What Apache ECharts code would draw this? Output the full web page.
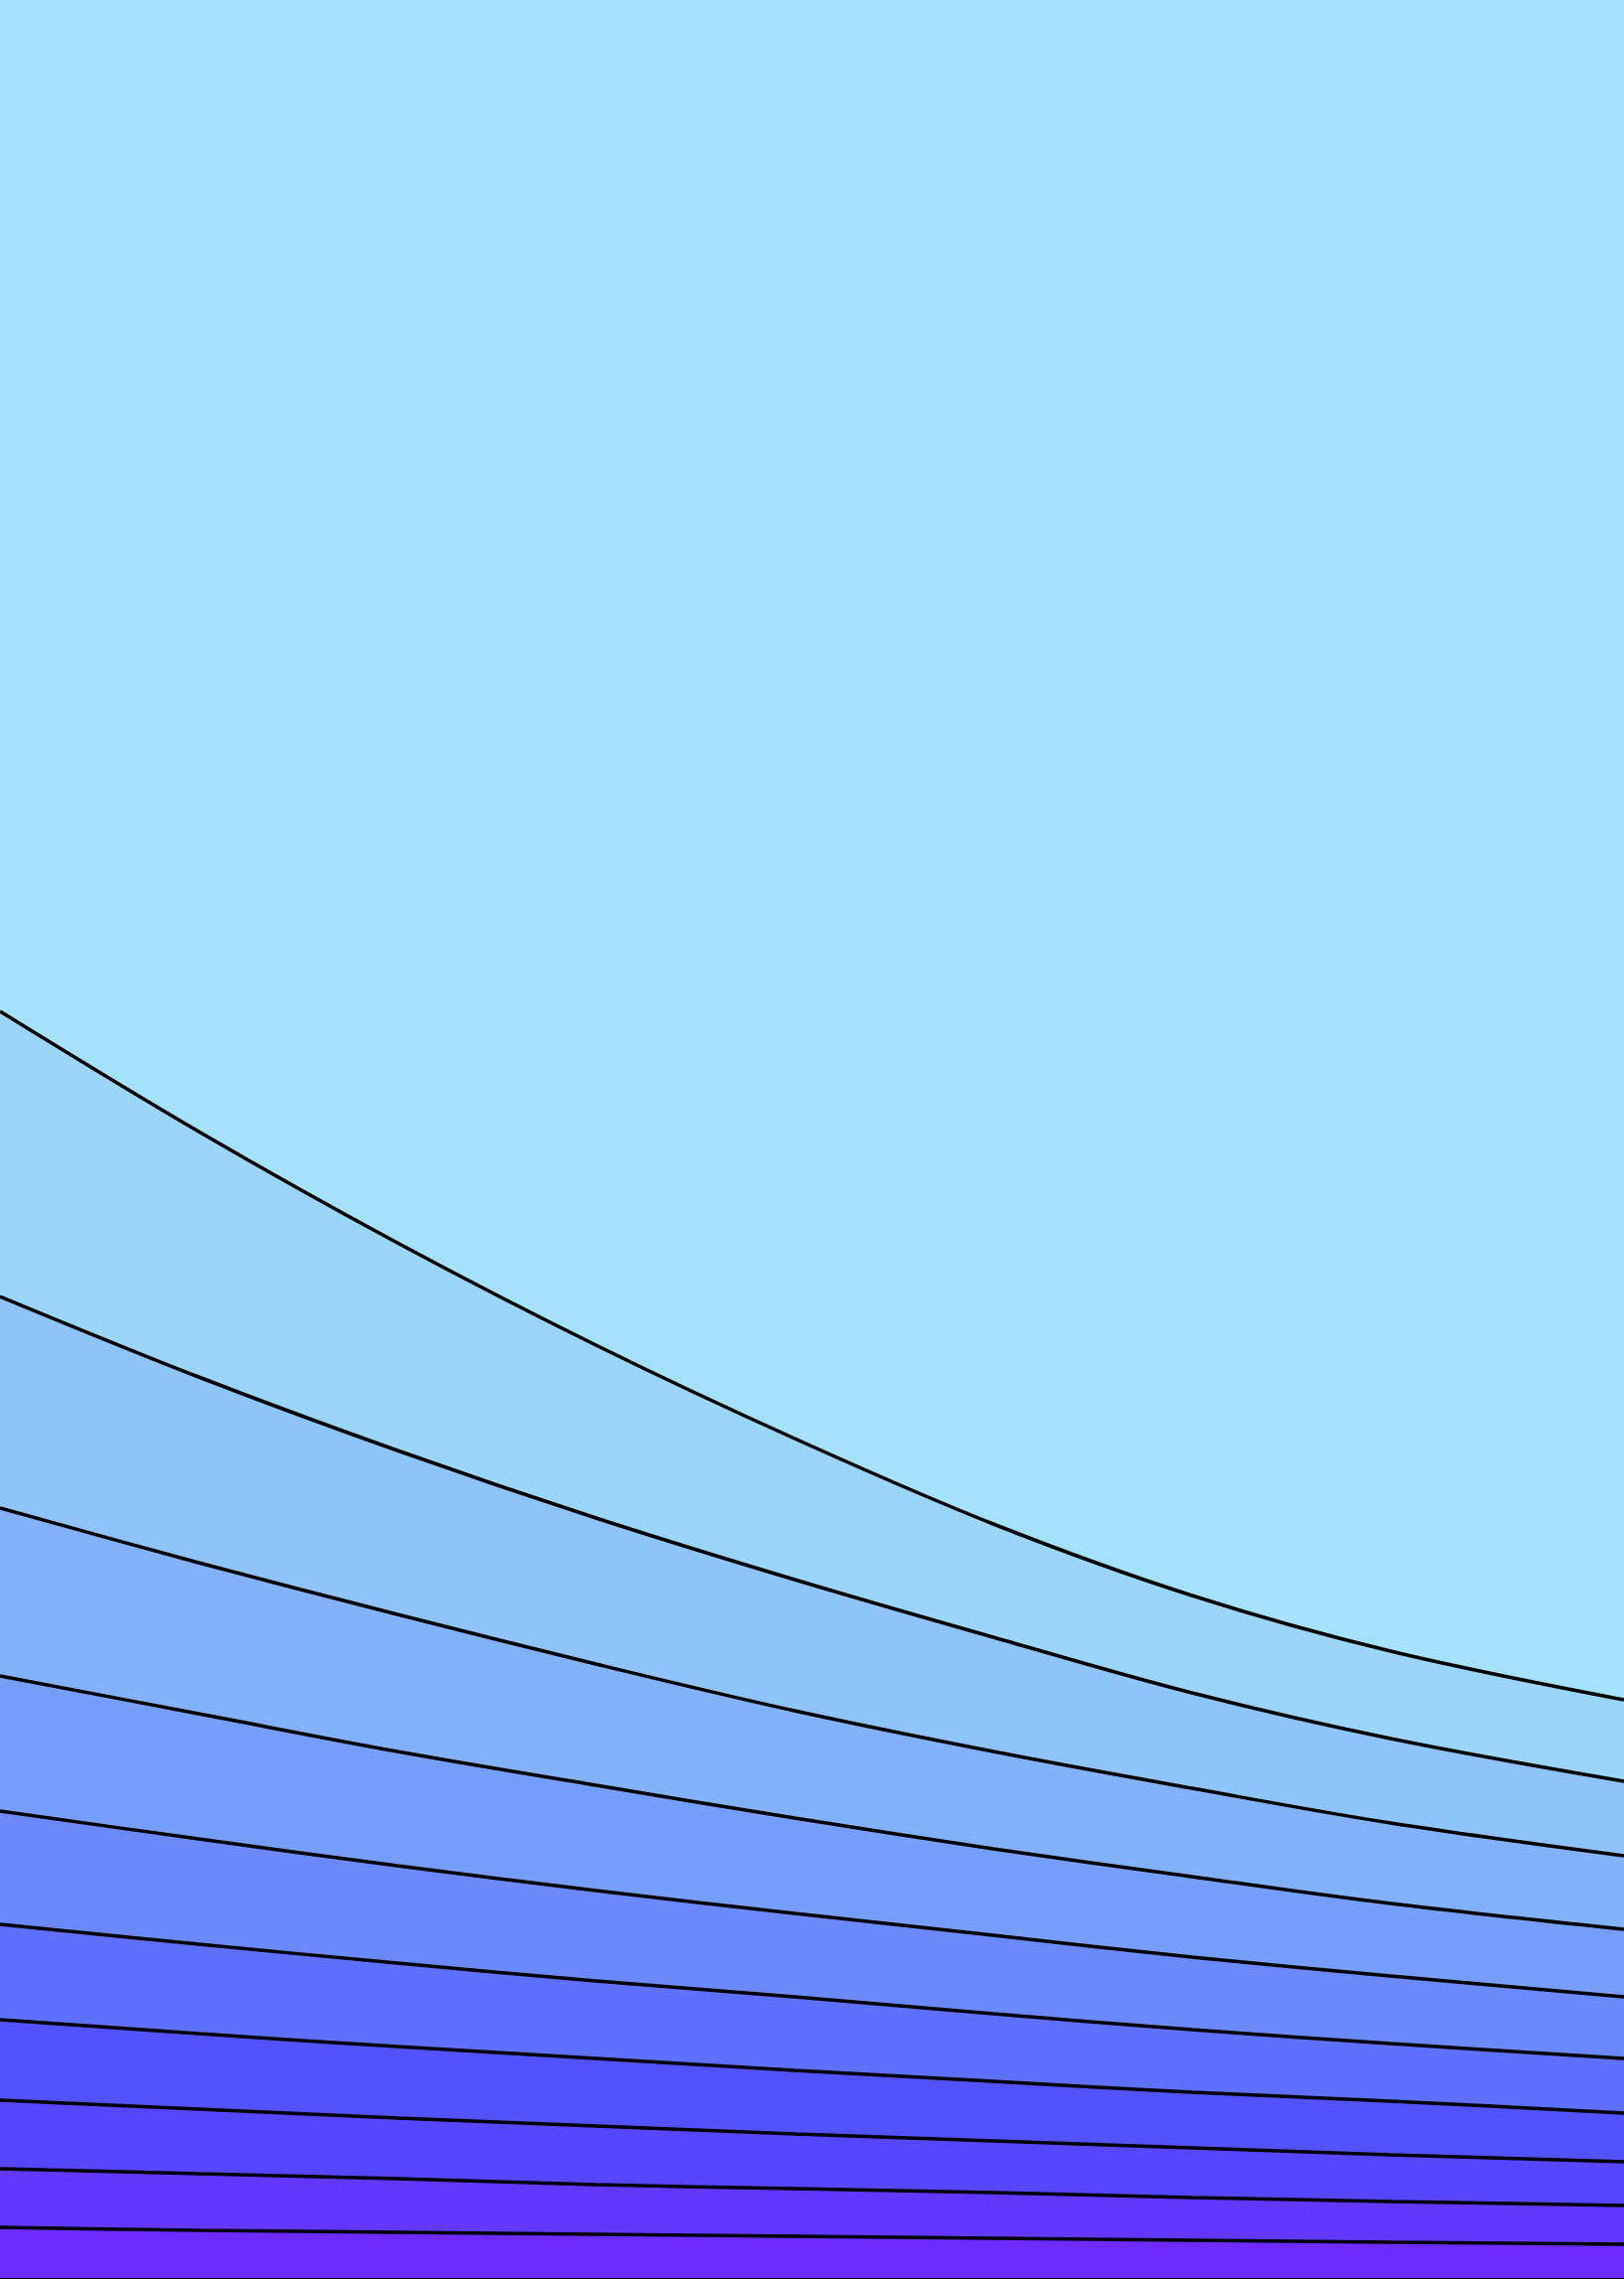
<!DOCTYPE html>
<html>
<head>
<meta charset="utf-8">
<script src="https://cdn.jsdelivr.net/npm/echarts@6/dist/echarts.min.js"></script>
<style>
html,body{margin:0;padding:0;background:#a6e1fc;}
#chart{width:1635px;height:2294px;}
</style>
</head>
<body>
<div id="chart"></div>
<script>
// x positions where each contour is sampled
const xPositions = [0, 200, 400, 600, 800, 1000, 1200, 1400, 1635];

// contour levels (depth values), top to bottom
const contour1  = [1018, 1139, 1251, 1354, 1448, 1534, 1606, 1662, 1711];
const contour2  = [1305, 1386, 1460, 1528, 1590, 1648, 1704, 1750, 1793];
const contour3  = [1518, 1573, 1625, 1675, 1722, 1763, 1800, 1835, 1868];
const contour4  = [1687, 1725, 1763, 1797, 1830, 1861, 1889, 1916, 1942];
const contour5  = [1823, 1851, 1878, 1903, 1926, 1948, 1970, 1989, 2010];
const contour6  = [1937, 1957, 1976, 1994, 2010, 2027, 2043, 2057, 2072];
const contour7  = [2033, 2047, 2060, 2072, 2084, 2095, 2106, 2115, 2127];
const contour8  = [2114, 2123, 2132, 2140, 2148, 2155, 2162, 2169, 2176];
const contour9  = [2183, 2188, 2193, 2199, 2203, 2207, 2212, 2216, 2220];
const contour10 = [2242, 2245, 2247, 2249, 2251, 2253, 2255, 2257, 2259];

const contours = [contour1, contour2, contour3, contour4, contour5,
                  contour6, contour7, contour8, contour9, contour10];

// band colours: top band first, then the band below each contour
const bandColors = ['#a6e1fc', '#9bd5fa', '#8fc4fb', '#83b2fb', '#779efb',
                    '#6b89fb', '#5f6ffe', '#5252ff', '#5746ff', '#6238ff', '#6e2bff'];

const chart = echarts.init(document.getElementById('chart'), null, {renderer: 'canvas'});

const series = contours.map((vals, i) => ({
  type: 'line',
  data: xPositions.map((x, j) => [x, vals[j]]),
  smooth: 0.35,
  showSymbol: false,
  symbol: 'none',
  silent: true,
  lineStyle: {color: '#000', width: 3.5},
  areaStyle: {color: bandColors[i + 1], opacity: 1, origin: 'end'},
  z: 2 + i
}));

chart.setOption({
  animation: false,
  backgroundColor: bandColors[0],
  grid: {left: 0, right: 0, top: 0, bottom: 1, containLabel: false},
  xAxis: {
    type: 'value', min: 0, max: 1635,
    axisLabel: {show: false}, axisTick: {show: false}, splitLine: {show: false},
    axisLine: {show: true, onZero: false, lineStyle: {color: '#000', width: 2}}
  },
  yAxis: {
    type: 'value', min: 0, max: 2293, inverse: true,
    axisLabel: {show: false}, axisTick: {show: false}, splitLine: {show: false},
    axisLine: {show: false}
  },
  series: series
});
</script>
</body>
</html>
